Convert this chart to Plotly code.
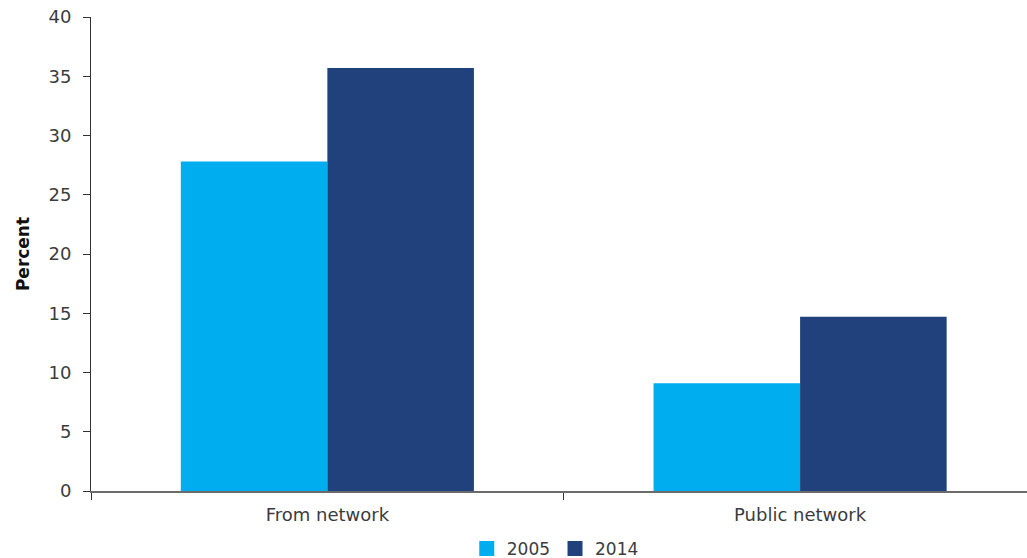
import plotly.graph_objects as go

# Share of households by water source type, 2005 vs 2014
categories = ["From network", "Public network"]
values_2005 = [27.8, 9.1]
values_2014 = [35.7, 14.7]
y_ticks = [0, 5, 10, 15, 20, 25, 30, 35, 40]
years = ["2005", "2014"]
colors = ["#00AEEF", "#20417C"]

FONT = "DejaVu Sans, Liberation Sans, Arial, sans-serif"
TEXT = "#3c3c3c"

fig = go.Figure()
for year, vals, col in zip(years, [values_2005, values_2014], colors):
    fig.add_trace(go.Bar(name=year, x=categories, y=vals, showlegend=False,
                         marker=dict(color=col, line=dict(width=0))))
# legend keys drawn as larger squares
for year, col in zip(years, colors):
    fig.add_trace(go.Scatter(name=year, x=[None], y=[None], mode="markers",
                             marker=dict(symbol="square", size=15, color=col),
                             showlegend=True))

fig.update_layout(
    width=1027, height=558,
    margin=dict(l=91, r=0, t=17, b=67, autoexpand=False),
    paper_bgcolor="white", plot_bgcolor="white",
    barmode="group", bargap=0.38, bargroupgap=0,
    font=dict(family=FONT, size=18, color=TEXT),
    showlegend=True,
    legend=dict(orientation="h", x=0.496, xanchor="center",
                yref="container", y=0.016, yanchor="middle",
                font=dict(size=17, color=TEXT), itemwidth=30, traceorder="normal",
                bgcolor="rgba(0,0,0,0)"),
)
fig.update_xaxes(
    type="category", range=[-0.5, 1.48],
    showline=True, linecolor="#6b6b6b", linewidth=2,
    ticks="outside", tickson="boundaries", ticklen=7, tickcolor="#333333", tickwidth=1,
    showgrid=False, zeroline=False, ticklabelstandoff=6,
    tickfont=dict(size=18, color=TEXT),
)
fig.update_yaxes(
    range=[0, 40], tickvals=y_ticks,
    showline=True, linecolor="#333333", linewidth=1,
    ticks="outside", ticklen=7, tickcolor="#333333", tickwidth=1,
    showgrid=False, zeroline=False, ticklabelstandoff=8,
    tickfont=dict(size=18, color=TEXT),
    title=dict(text="<b>Percent</b>", font=dict(size=17, color="#111111"), standoff=14),
)

fig.write_html("out.html")
